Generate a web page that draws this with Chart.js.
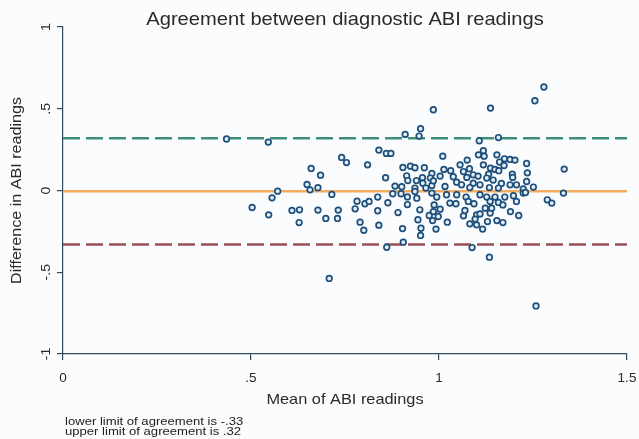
<!DOCTYPE html>
<html>
<head>
<meta charset="utf-8">
<script src="https://cdn.jsdelivr.net/npm/chart.js@4.4.1/dist/chart.umd.min.js"></script>
<style>
  html, body { margin: 0; padding: 0; background: #fbfcfd; }
  #wrap { width: 639px; height: 439px; }
</style>
</head>
<body>
<div id="wrap"><canvas id="ba" width="639" height="439"></canvas></div>
<script>
// mean of the two readings (x) and their difference (y)
const meanVals = [
  0.435, 0.546, 0.660, 0.685, 0.649, 0.657, 0.678, 0.715, 0.571, 0.556,
  0.503, 0.547, 0.609, 0.629, 0.628, 0.678, 0.699, 0.708,
  0.985, 0.951, 0.910, 0.947, 0.840, 0.860, 0.872, 0.741, 0.754, 0.810,
  0.904, 0.924, 0.936, 0.961, 0.981, 0.914, 0.858, 0.917, 0.940, 0.956,
  0.957, 0.977, 0.981, 0.883, 0.901, 0.936, 0.965,
  0.837, 0.877, 0.899, 0.916, 0.941, 0.782, 0.803, 0.814, 0.864, 0.916,
  0.777, 0.732, 0.730, 0.837, 0.891, 0.949, 0.974, 0.944, 0.790, 0.800,
  0.840, 0.903, 0.952, 0.951, 0.905, 0.861, 0.936,
  1.137, 1.107, 1.158, 1.010, 1.118, 1.105, 1.120, 1.154, 1.174, 1.189,
  1.202, 1.161, 1.173, 1.233, 1.075, 1.056, 1.118, 1.137, 1.149, 1.081,
  1.013, 1.031, 1.065, 1.091, 1.132, 1.159, 1.195, 1.235, 1.003, 1.038,
  1.074, 1.104, 1.127, 1.144, 1.196, 0.985, 1.047, 1.060, 1.091, 1.109,
  1.166, 1.189, 1.206, 1.233, 1.016, 1.082, 1.134, 1.158, 1.224,
  0.981, 0.994, 1.020, 1.047, 1.029, 1.045, 1.072, 1.078, 1.093, 1.109,
  1.127, 1.136, 1.149, 1.158, 1.170, 1.175, 1.198, 1.206, 1.224, 0.987,
  1.003, 0.985, 0.998, 0.983, 0.992, 1.022, 1.065, 1.069, 1.100, 1.109,
  1.096, 1.082, 1.100, 1.116, 1.129, 1.136, 1.154, 1.170, 1.190, 1.212,
  1.140, 1.123, 1.088, 1.134,
  1.279, 1.255, 1.333, 1.251, 1.230, 1.331, 1.288, 1.300, 1.258
];
const diffVals = [
  0.315, 0.296, 0.135, 0.094, 0.037, 0.004, 0.017, -0.024, -0.004, -0.045,
  -0.104, -0.149, -0.122, -0.118, -0.196, -0.120, -0.171, -0.538,
  0.494, 0.378, 0.343, 0.333, 0.247, 0.227, 0.227, 0.202, 0.171, 0.157,
  0.141, 0.149, 0.139, 0.139, 0.104, 0.090, 0.078, 0.061, 0.061, 0.078,
  0.045, 0.076, 0.031, 0.027, 0.023, 0.015, 0.015,
  -0.040, -0.020, -0.020, -0.039, -0.047, -0.065, -0.081, -0.067, -0.075, -0.086,
  -0.112, -0.120, -0.171, -0.124, -0.135, -0.118, -0.153, -0.179, -0.194, -0.243,
  -0.212, -0.233, -0.231, -0.275, -0.316, -0.347, -0.006,
  0.504, 0.304, 0.324, 0.210, 0.243, 0.218, 0.210, 0.218, 0.194, 0.190,
  0.186, 0.174, 0.153, 0.165, 0.186, 0.157, 0.157, 0.137, 0.129, 0.133,
  0.129, 0.121, 0.116, 0.096, 0.100, 0.121, 0.100, 0.108, 0.088, 0.084,
  0.080, 0.088, 0.076, 0.064, 0.080, 0.059, 0.051, 0.035, 0.045, 0.035,
  0.043, 0.035, 0.035, 0.055, 0.025, 0.018, 0.018, 0.015, 0.010,
  -0.016, -0.040, -0.026, -0.026, -0.077, -0.081, -0.040, -0.067, -0.081, -0.026,
  -0.040, -0.067, -0.040, -0.073, -0.088, -0.040, -0.032, -0.067, -0.016, -0.088,
  -0.114, -0.129, -0.159, -0.184, -0.236, -0.194, -0.155, -0.122, -0.149, -0.143,
  -0.175, -0.204, -0.210, -0.236, -0.190, -0.138, -0.184, -0.196, -0.129, -0.153,
  -0.108, -0.108, -0.349, -0.408,
  0.633, 0.549, 0.131, 0.021, -0.012, -0.016, -0.057, -0.077, -0.706
];

const meanDiff = -0.005;
const upperLimit = 0.32;
const lowerLimit = -0.33;

const xTickVals = [0, 0.5, 1, 1.5];
const xTickLabels = ['0', '.5', '1', '1.5'];
const yTickVals = [-1, -0.5, 0, 0.5, 1];
const yTickLabels = ['-1', '-.5', '0', '.5', '1'];

const titleText = 'Agreement between diagnostic ABI readings';
const xTitle = 'Mean of ABI readings';
const yTitle = 'Difference in ABI readings';
const notes = ['lower limit of agreement is -.33', 'upper limit of agreement is .32'];

const FONT = '"Liberation Sans", Arial, sans-serif';
const AXIS = '#34495a';
const TXT = '#2a2a2a';

const hline = (y) => [{ x: 0, y }, { x: 1.5, y }];

// text slightly stretched sideways, like the Stata export
function drawText(ctx, str, x, y, size, sx, align, rot) {
  ctx.save();
  ctx.translate(x, y);
  if (rot) ctx.rotate(rot);
  ctx.scale(sx, 1);
  ctx.font = size + 'px ' + FONT;
  ctx.textAlign = align || 'center';
  ctx.textBaseline = 'middle';
  ctx.fillText(str, 0, 0);
  ctx.restore();
}

const textPlugin = {
  id: 'textPlugin',
  beforeDraw(chart) {
    const { ctx } = chart;
    ctx.save();
    ctx.fillStyle = '#fbfcfd';
    ctx.fillRect(0, 0, chart.width, chart.height);
    ctx.restore();
  },
  afterDraw(chart) {
    const { ctx, chartArea } = chart;
    const ys = chart.scales.y;
    const cx = (chartArea.left + chartArea.right) / 2;
    ctx.save();
    ctx.fillStyle = TXT;

    drawText(ctx, titleText, cx, 20, 19, 1.06);
    drawText(ctx, xTitle, cx, 400, 15, 1.09);
    drawText(ctx, yTitle, 17, (chartArea.top + chartArea.bottom) / 2, 15.5, 1.04, 'center', -Math.PI / 2);

    yTickVals.forEach((v, i) => {
      drawText(ctx, yTickLabels[i], 46, ys.getPixelForValue(v), 13.5, 1.05, 'center', -Math.PI / 2);
    });

    ctx.fillStyle = '#222';
    drawText(ctx, notes[0], 65, 422, 11, 1.19, 'left');
    drawText(ctx, notes[1], 65, 432, 11, 1.19, 'left');
    ctx.restore();
  }
};

new Chart(document.getElementById('ba'), {
  type: 'scatter',
  data: {
    datasets: [
      {
        label: 'diff',
        data: meanVals.map((m, i) => ({ x: m, y: diffVals[i] })),
        pointRadius: 2.8,
        pointBorderWidth: 1.7,
        pointBorderColor: '#1d4f7c',
        pointBackgroundColor: '#e6eef4'
      },
      {
        label: 'upper',
        data: hline(upperLimit),
        showLine: true,
        pointRadius: 0,
        borderColor: '#3f8f78',
        borderWidth: 2.5,
        borderDash: [17, 6]
      },
      {
        label: 'mean',
        data: hline(meanDiff),
        showLine: true,
        pointRadius: 0,
        borderColor: '#f2ad63',
        borderWidth: 2.5
      },
      {
        label: 'lower',
        data: hline(lowerLimit),
        showLine: true,
        pointRadius: 0,
        borderColor: '#9a4f55',
        borderWidth: 2.5,
        borderDash: [17, 6]
      }
    ]
  },
  options: {
    responsive: false,
    animation: false,
    layout: { padding: { top: 27, right: 12, bottom: 0, left: 0 } },
    plugins: { legend: { display: false }, tooltip: { enabled: false } },
    scales: {
      x: {
        type: 'linear',
        min: 0,
        max: 1.5,
        afterBuildTicks(s) { s.ticks = xTickVals.map(v => ({ value: v })); },
        // keep the tick labels from squeezing the plot box
        afterFit(s) { s.height = 85; s.paddingLeft = 0; s.paddingRight = 0; },
        ticks: {
          padding: 10,
          color: TXT,
          font: { size: 13.5, family: FONT },
          maxRotation: 0,
          callback: (v) => xTickLabels[xTickVals.indexOf(v)]
        },
        grid: { drawOnChartArea: false, drawTicks: true, tickLength: 6, color: AXIS, lineWidth: 1.2 },
        border: { display: true, color: AXIS, width: 1.2 }
      },
      y: {
        type: 'linear',
        min: -1,
        max: 1,
        afterBuildTicks(s) { s.ticks = yTickVals.map(v => ({ value: v })); },
        afterFit(s) { s.width = 63; s.paddingTop = 0; s.paddingBottom = 0; },
        ticks: { display: false },
        grid: { drawOnChartArea: false, drawTicks: true, tickLength: 6, color: AXIS, lineWidth: 1.2 },
        border: { display: true, color: AXIS, width: 1.2 }
      }
    }
  },
  plugins: [textPlugin]
});
</script>
</body>
</html>
